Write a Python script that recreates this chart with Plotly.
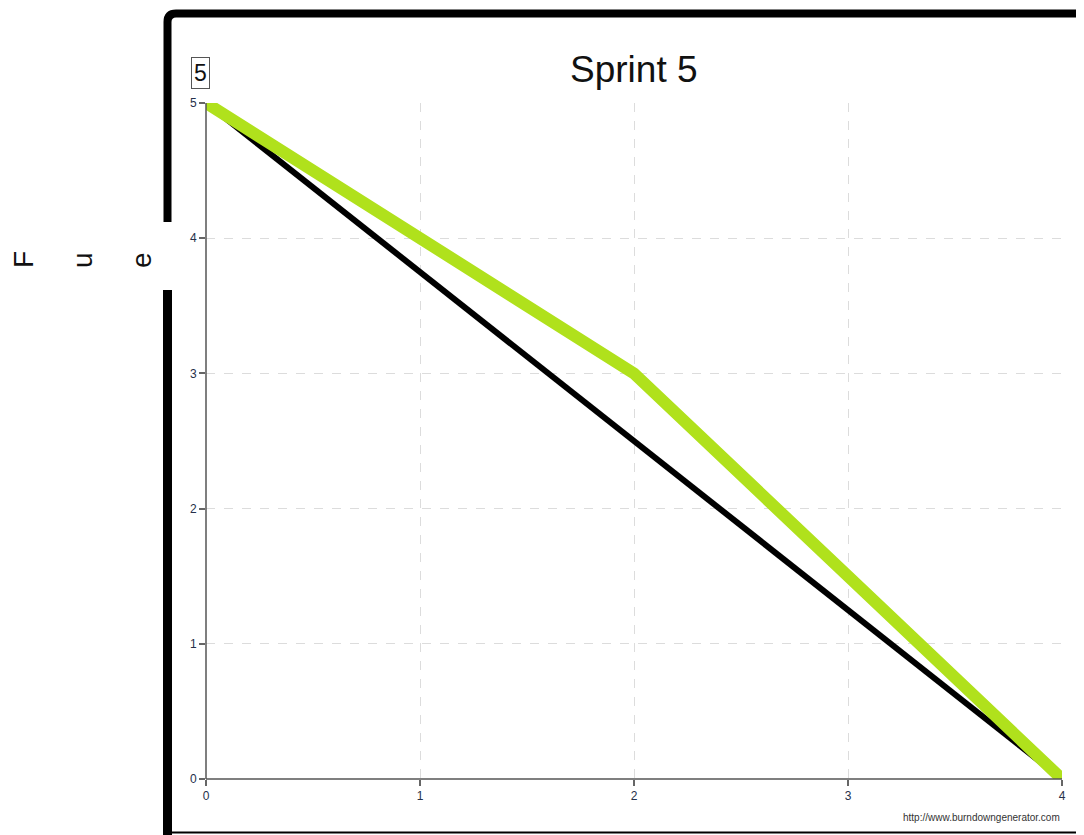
import plotly.graph_objects as go

# data
days = [0, 1, 2, 3, 4]
ideal_x = [0, 4]
ideal_y = [5, 0]
actual_y = [5, 4, 3, 1.5, 0]
x_ticks = [0, 1, 2, 3, 4]
y_ticks = [0, 1, 2, 3, 4, 5]
title_text = "Sprint 5"
side_letters = ["F", "u", "e"]

W, H = 1084, 835
OFF = 8  # page body margin shifts the figure
L, R, T, B = 206 - OFF, 1062 - OFF, 103 - OFF, 779 - OFF


def px(x):
    return (x - OFF - L) / (R - L)


def py(y):
    return (B - (y - OFF)) / (B - T)


fig = go.Figure()

fig.add_trace(go.Scatter(
    x=ideal_x, y=ideal_y, mode="lines",
    line=dict(color="#000000", width=6),
    cliponaxis=False, hoverinfo="skip",
))
fig.add_trace(go.Scatter(
    x=days, y=actual_y, mode="lines",
    line=dict(color="#b0e11c", width=12),
    cliponaxis=False,
))

tick_font = dict(family="Liberation Sans, Arial", size=12, color="#26304a")

fig.update_xaxes(
    range=[0, 4], tickvals=x_ticks, showgrid=True, gridcolor="#dcdcdc", griddash="dash",
    gridwidth=1.2, zeroline=False, showline=False, ticks="outside", ticklen=6, tickwidth=1.5,
    tickcolor="#666666", tickfont=tick_font,
)
fig.update_yaxes(
    range=[0, 5], tickvals=y_ticks, showgrid=True, gridcolor="#dcdcdc", griddash="dash",
    gridwidth=1.2, zeroline=False, showline=False, ticks="outside", ticklen=6, tickwidth=1.5,
    tickcolor="#666666", tickfont=tick_font,
)

shapes = [
    # axis lines
    dict(type="line", xref="paper", yref="paper", x0=0, x1=1, y0=0, y1=0,
         line=dict(color="#555555", width=1.5)),
    dict(type="line", xref="paper", yref="paper", x0=0, x1=0, y0=0, y1=1,
         line=dict(color="#555555", width=1.5)),
    # outer frame: lower-left segment
    dict(type="line", xref="paper", yref="paper", x0=px(167.5), x1=px(167.5),
         y0=py(845), y1=py(290), line=dict(color="#000000", width=9)),
    # outer frame: upper-left corner and top
    dict(type="path", xref="paper", yref="paper",
         path=f"M {px(167.5)},{py(222)} L {px(167.5)},{py(22)} "
              f"Q {px(167.5)},{py(13.5)} {px(176)},{py(13.5)} L {px(1100)},{py(13.5)}",
         line=dict(color="#000000", width=8)),
    # thin bottom line
    dict(type="line", xref="paper", yref="paper", x0=px(167), x1=px(1100),
         y0=py(832.5), y1=py(832.5), line=dict(color="#000000", width=2)),
]

annotations = [
    dict(text=title_text, xref="paper", yref="paper", x=px(634), y=py(70),
         xanchor="center", yanchor="middle", showarrow=False,
         font=dict(family="Liberation Sans, Arial", size=37, color="#111111")),
    dict(text="5", xref="paper", yref="paper", x=px(200), y=py(73),
         xanchor="center", yanchor="middle", showarrow=False,
         bordercolor="#555555", borderwidth=1, borderpad=2,
         font=dict(family="Liberation Sans, Arial", size=23, color="#111111")),
    dict(text="http://www.burndowngenerator.com", xref="paper", yref="paper",
         x=px(1062), y=py(817), xanchor="right", yanchor="middle", showarrow=False,
         font=dict(family="Liberation Sans, Arial", size=10, color="#333333")),
]
for letter, lx in zip(side_letters, [23, 82, 141]):
    annotations.append(dict(
        text=letter, xref="paper", yref="paper", x=px(lx), y=py(260),
        xanchor="center", yanchor="middle", showarrow=False, textangle=-90,
        font=dict(family="Liberation Sans, Arial", size=28, color="#111111"),
    ))

fig.update_layout(
    width=W, height=H,
    margin=dict(l=L, r=W - R, t=T, b=H - B),
    plot_bgcolor="white", paper_bgcolor="white",
    showlegend=False,
    shapes=shapes,
    annotations=annotations,
)

fig.write_html("out.html")
